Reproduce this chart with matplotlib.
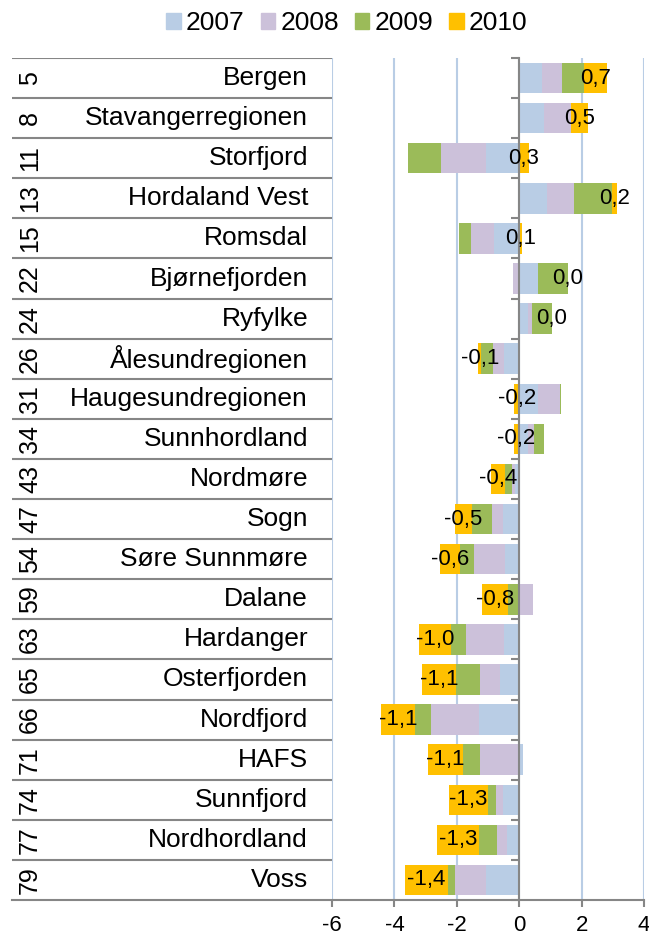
import matplotlib
matplotlib.use('Agg')
import matplotlib.pyplot as plt
from matplotlib.patches import Patch
import numpy as np

plt.rcParams['font.family'] = ['Liberation Sans', 'DejaVu Sans']
plt.rcParams['axes.unicode_minus'] = False

regions = ['Bergen', 'Stavangerregionen', 'Storfjord', 'Hordaland Vest', 'Romsdal',
           'Bjørnefjorden', 'Ryfylke', 'Ålesundregionen', 'Haugesundregionen',
           'Sunnhordland', 'Nordmøre', 'Sogn', 'Søre Sunnmøre', 'Dalane', 'Hardanger',
           'Osterfjorden', 'Nordfjord', 'HAFS', 'Sunnfjord', 'Nordhordland', 'Voss']
ranks = [5, 8, 11, 13, 15, 22, 24, 26, 31, 34, 43, 47, 54, 59, 63, 65, 66, 71, 74, 77, 79]

years = ['2007', '2008', '2009', '2010']
v2007 = [0.74, 0.80, -1.05, 0.88, -0.82, 0.61, 0.28, -0.50, 0.60, 0.27, -0.13,
         -0.53, -0.46, 0.0, -0.50, -0.63, -1.29, 0.12, -0.53, -0.39, -1.07]
v2008 = [0.63, 0.87, -1.46, 0.87, -0.74, -0.19, 0.13, -0.33, 0.71, 0.21, -0.11,
         -0.35, -0.98, 0.45, -1.19, -0.62, -1.55, -1.27, -0.22, -0.31, -1.00]
v2009 = [0.70, 0.0, -1.06, 1.22, -0.37, 0.94, 0.63, -0.38, 0.02, 0.31, -0.22,
         -0.64, -0.46, -0.35, -0.48, -0.79, -0.51, -0.52, -0.24, -0.59, -0.22]
v2010 = [0.73, 0.53, 0.30, 0.17, 0.10, 0.01, 0.01, -0.10, -0.16, -0.17, -0.44,
         -0.54, -0.64, -0.84, -1.04, -1.07, -1.08, -1.14, -1.26, -1.33, -1.38]

colors = ['#B9CDE5', '#CCC1DA', '#9BBB59', '#FFC000']
grid_col = '#B9CDE5'
axis_col = '#868686'

n = len(regions)
y = np.arange(n)

W, H = 649, 936
fig = plt.figure(figsize=(W / 100, H / 100), dpi=100)
bottom = 1 - 900 / H
height = (900 - 58) / H
ax = fig.add_axes([332 / W, bottom, (644 - 332) / W, height])
axl = fig.add_axes([12 / W, bottom, (332 - 12) / W, height], sharey=ax)

pos = np.zeros(n)
neg = np.zeros(n)
for vals, col, yr in zip([v2007, v2008, v2009, v2010], colors, years):
    vals = np.array(vals)
    left = np.where(vals >= 0, pos, neg)
    bars = ax.barh(y, vals, left=left, height=0.76, color=col, zorder=2, label=yr)
    pos = pos + np.clip(vals, 0, None)
    neg = neg + np.clip(vals, None, 0)

# labels with 2010 value, centered on the 2010 segment
ax.bar_label(bars, labels=[f'{v:.1f}'.replace('.', ',') for v in v2010],
             label_type='center', fontsize=16, zorder=5)

ax.set_xlim(-6, 4)
ax.set_xticks(np.arange(-6, 5, 2))
ax.set_ylim(n - 0.5, -0.5)
ax.xaxis.grid(True, color=grid_col, lw=1.5, zorder=0)
ax.set_axisbelow(True)
ax.spines['top'].set_visible(False)
ax.spines['right'].set_visible(False)
ax.spines['left'].set_position(('data', 0))
ax.spines['left'].set_color(axis_col)
ax.spines['left'].set_linewidth(1.5)
ax.spines['left'].set_zorder(3)
ax.spines['bottom'].set_color(axis_col)
ax.spines['bottom'].set_linewidth(1.5)
ax.set_yticks(np.arange(-0.5, n, 1))
ax.tick_params(axis='y', direction='out', length=6, width=1.5, color=axis_col, labelleft=False)
ax.tick_params(axis='x', direction='out', length=5, width=1.5, color=axis_col,
               labelsize=16, pad=6)

# category table on the left
axl.set_xlim(12, 332)
for s in ['top', 'right', 'left']:
    axl.spines[s].set_visible(False)
axl.spines['bottom'].set_color(axis_col)
axl.spines['bottom'].set_linewidth(1.5)
axl.tick_params(left=False, bottom=False, labelleft=False, labelbottom=False)
for b in np.arange(-0.5, n - 1, 1):
    axl.axhline(b, color=axis_col, lw=1.5)
for i in range(n):
    axl.text(30, i, str(ranks[i]), rotation=90, ha='center', va='center', fontsize=18)
    axl.text(308, i, regions[i], ha='right', va='center', fontsize=19)

handles = [Patch(color=c, label=yr) for c, yr in zip(colors, years)]
fig.legend(handles=handles, loc='center', bbox_to_anchor=(347 / W, 1 - 23 / H), ncol=4,
           frameon=False, fontsize=19, handlelength=0.55, handleheight=0.55,
           handletextpad=0.2, columnspacing=0.6, borderpad=0)

fig.savefig('out.png', dpi=100)
